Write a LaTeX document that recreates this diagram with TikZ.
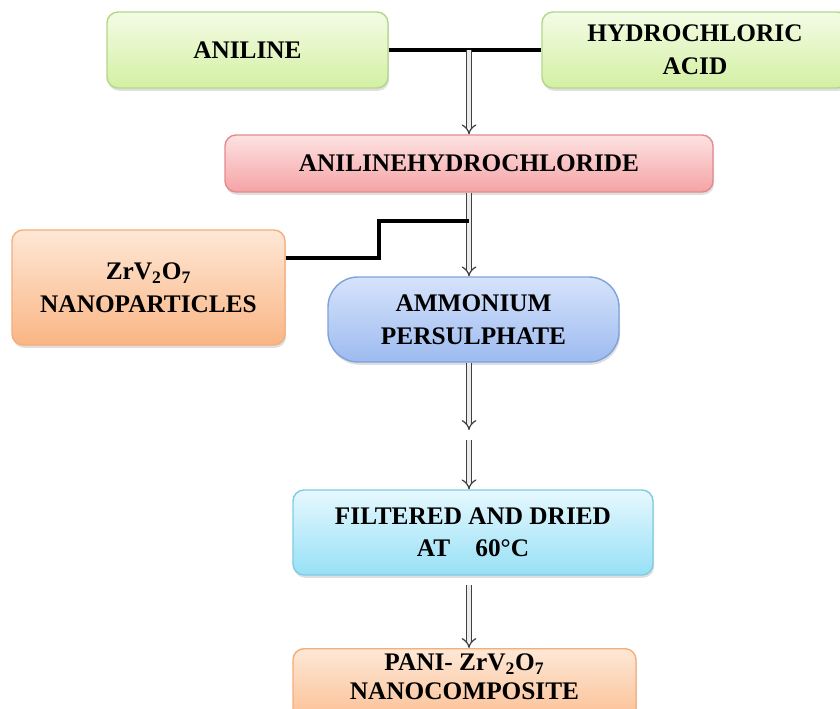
\documentclass[tikz,border=0pt]{standalone}
\usepackage{fontspec}
\setmainfont{Liberation Serif}
\usetikzlibrary{arrows.meta,shadows}

\definecolor{grtop}{HTML}{F4FCE6}
\definecolor{grbot}{HTML}{D3F0A2}
\definecolor{grline}{HTML}{B3D68A}
\definecolor{rdtop}{HTML}{FDE2E2}
\definecolor{rdbot}{HTML}{F5A3A5}
\definecolor{rdline}{HTML}{E48A8E}
\definecolor{ortop}{HTML}{FEE8D6}
\definecolor{orbot}{HTML}{FAB584}
\definecolor{orline}{HTML}{F4AE7A}
\definecolor{bltop}{HTML}{D6E3FB}
\definecolor{blbot}{HTML}{9DBBF0}
\definecolor{blline}{HTML}{7FA2DA}
\definecolor{cytop}{HTML}{E6F8FE}
\definecolor{cybot}{HTML}{97E0F6}
\definecolor{cyline}{HTML}{7FCBE3}

\tikzset{
  box/.style={draw,line width=0.8pt,rounded corners=0.22cm,align=center,
    font=\fontsize{14.4}{18.5}\selectfont\bfseries,
    drop shadow={opacity=0.25,shadow xshift=0.6pt,shadow yshift=-1.6pt}},
  greenbox/.style={box,draw=grline,top color=grtop,bottom color=grbot},
  redbox/.style={box,draw=rdline,top color=rdtop,bottom color=rdbot},
  orangebox/.style={box,draw=orline,top color=ortop,bottom color=orbot},
  bluebox/.style={box,draw=blline,top color=bltop,bottom color=blbot,rounded corners=0.6cm},
  cyanbox/.style={box,draw=cyline,top color=cytop,bottom color=cybot},
  link/.style={line width=2pt,black},
  arr/.style={double=gray!15,double distance=2.2pt,line width=0.7pt,draw=gray!50!black,-{Implies}}
}

\begin{document}
\begin{tikzpicture}
\clip (0,0) rectangle (16.8,-14.18);

% starting materials
\node[greenbox,minimum width=5.62cm,minimum height=1.52cm] (anil) at (4.95,-1.0) {ANILINE};
\node[greenbox,minimum width=6.12cm,minimum height=1.52cm] (hcl) at (13.9,-1.0) {HYDROCHLORIC\\ACID};
\node[redbox,minimum width=9.76cm,minimum height=1.14cm] (ahcl) at (9.38,-3.27) {ANILINEHYDROCHLORIDE};
\node[orangebox,minimum width=5.46cm,minimum height=2.3cm] (zrv) at (2.97,-5.75) {ZrV\textsubscript{2}O\textsubscript{7}\\NANOPARTICLES};
\node[bluebox,minimum width=5.82cm,minimum height=1.7cm] (aps) at (9.47,-6.39) {AMMONIUM\\PERSULPHATE};
\node[cyanbox,minimum width=7.2cm,minimum height=1.7cm] (filt) at (9.46,-10.65) {FILTERED AND DRIED\\AT\quad 60°C};
\node[orangebox,minimum width=6.86cm,minimum height=1.8cm,anchor=north] (pani) at (9.29,-12.96)
  {\raisebox{0.18cm}[0pt][0pt]{\begin{tabular}{@{}c@{}}PANI- ZrV\textsubscript{2}O\textsubscript{7}\\[-2pt]NANOCOMPOSITE\end{tabular}}};

% junctions
\coordinate (j1) at (9.38,-1.0);
\coordinate (j2) at (9.38,-4.42);
\coordinate (z1) at (7.58,-4.42);
\coordinate (g1) at (9.38,-8.6);
\coordinate (g2) at (9.38,-8.8);
\coordinate (f1) at (9.38,-11.7);

% connectors
\draw[link] (anil.east) -- (hcl.west);
\draw[arr] (j1) -- (ahcl.north);
\draw[arr] (ahcl.south) -- (ahcl.south |- aps.north);
\draw[link] ([yshift=0.59cm]zrv.east) -| (z1) -- (j2);
\draw[arr] (j1 |- aps.south) -- (g1);
\draw[arr] (g2) -- (j1 |- filt.north);
\draw[arr] (f1) -- (j1 |- pani.north);
\end{tikzpicture}
\end{document}
